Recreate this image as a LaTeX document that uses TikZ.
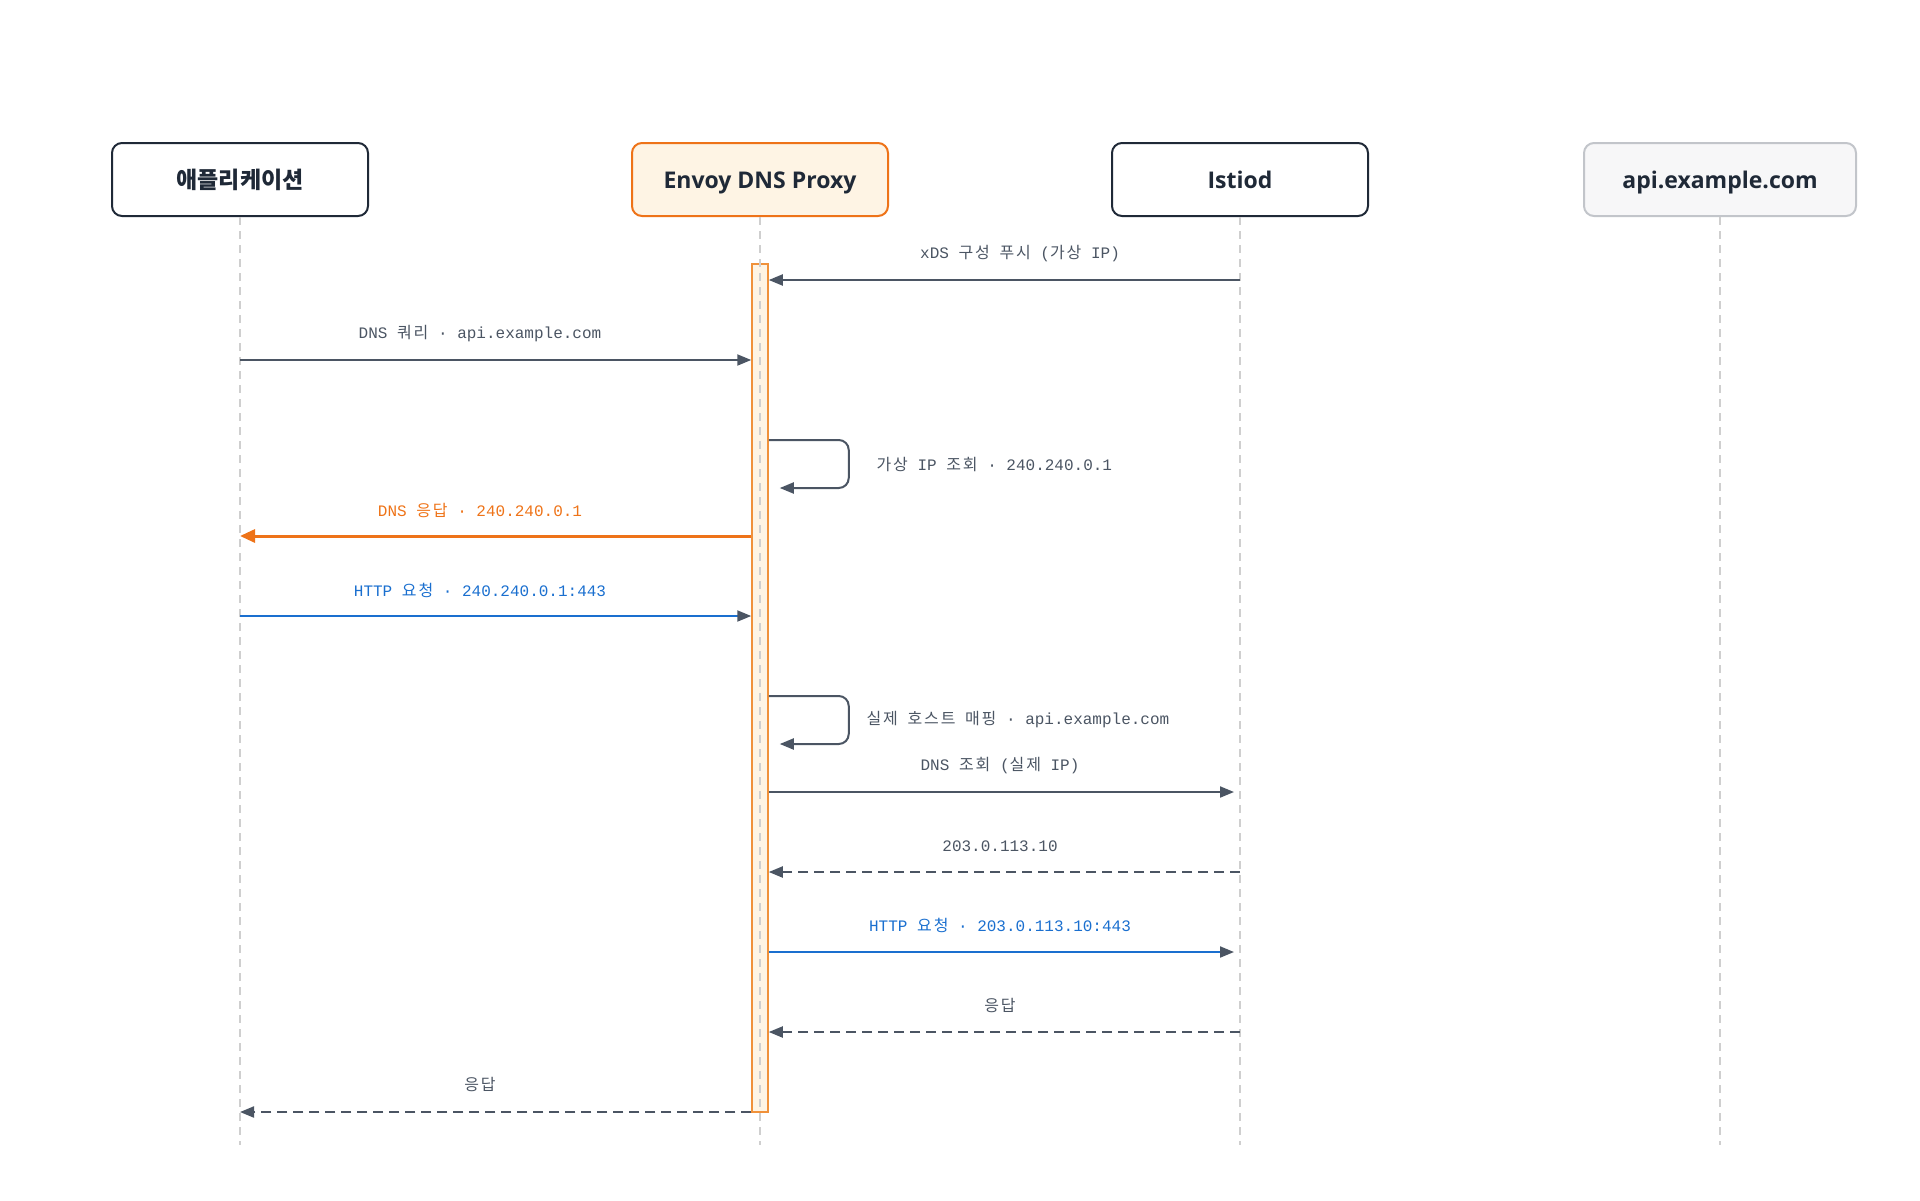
\documentclass[tikz,border=0pt]{standalone}
\usepackage{fontspec}
\usepackage{tikz}
\usetikzlibrary{arrows.meta}
\setmainfont{Open Sans}
\setmonofont{Liberation Mono}
\newfontfamily\kofont{Noto Sans CJK KR}
\newfontfamily\komono{Noto Sans CJK KR}[LetterSpace=12]
\newcommand{\ko}[1]{{\komono #1}}
\newcommand{\headFont}[0]{\fontsize{23}{28}\selectfont\bfseries}
\newcommand{\msgFont}[0]{\fontsize{16}{20}\selectfont\ttfamily}
\definecolor{inkDark}{HTML}{1F2937}
\definecolor{msgGray}{HTML}{4B5563}
\definecolor{envoyOrange}{HTML}{EE7318}
\definecolor{barOrange}{HTML}{F0913A}
\definecolor{envoyFill}{HTML}{FEF4E4}
\definecolor{httpBlue}{HTML}{1A6FCF}
\definecolor{extBorder}{HTML}{C2C5CA}
\definecolor{extFill}{HTML}{F7F7F8}
\definecolor{lifeGray}{HTML}{CFCFCF}

\begin{document}
\begin{tikzpicture}[x=1pt, y=-1pt]
  \tikzset{
    actor/.style={draw=inkDark, line width=2pt, rounded corners=10pt, minimum width=256pt,
      minimum height=73pt, text height=17pt, text depth=0pt, font=\headFont, text=inkDark},
    lifeline/.style={draw=lifeGray, line width=1.5pt, dash pattern=on 8pt off 6pt},
    msg/.style={draw=msgGray, line width=2pt, -{Triangle[length=14pt, width=11pt, color=msgGray]}},
    reply/.style={msg, dash pattern=on 10pt off 6pt},
    msglabel/.style={font=\msgFont, text=msgGray},
  }
  \useasboundingbox (0,0) rectangle (1920,1200);
  \node[actor] (app) at (240,179.5) {{\kofont 애플리케이션}};
  \node[actor, draw=envoyOrange, fill=envoyFill] (envoy) at (760,179.5) {Envoy DNS Proxy};
  \node[actor] (istiod) at (1240,179.5) {Istiod};
  \node[actor, draw=extBorder, fill=extFill, minimum width=272pt] (api) at (1720,179.5) {api.example.com};
  \coordinate (end) at (0,1145);
  \foreach \n/\y in {1/280,2/360,3/440,4/536,5/616,6/696,7/792,8/872,9/952,10/1032,11/1112}
    \coordinate (t\n) at (0,\y);
  % activation of the proxy
  \node[draw=barOrange, fill=envoyFill, line width=1.5pt, minimum width=16pt,
    minimum height=848pt, inner sep=0pt] (bar) at (760,688) {};
  \foreach \who in {app,envoy,istiod,api}
    \draw[lifeline] (\who.south) -- (\who |- end);
  % messages
  \draw[msg] (istiod |- t1) -- (bar.east |- t1);
  \node[msglabel] (l1) at (1020,254) {xDS \ko{구성} \ko{푸시} (\ko{가상} IP)};
  \draw[msg] (app |- t2) -- (bar.west |- t2);
  \node[msglabel] (l2) at (480,334) {DNS \ko{쿼리} · api.example.com};
  \draw[msg, rounded corners=10pt] (bar.east |- t3) -- ++(80,0) -- ++(0,48) -- ++(-69,0);
  \node[msglabel, anchor=west] (l3) at (873,464) {\ko{가상} IP \ko{조회} · 240.240.0.1};
  \draw[draw=envoyOrange, line width=3pt, -{Triangle[length=15pt, width=13pt]}] (bar.west |- t4) -- (app |- t4);
  \node[msglabel, text=envoyOrange] (l4) at (480,510) {DNS \ko{응답} · 240.240.0.1};
  \draw[msg, draw=httpBlue] (app |- t5) -- (bar.west |- t5);
  \node[msglabel, text=httpBlue] (l5) at (480,590) {HTTP \ko{요청} · 240.240.0.1:443};
  \draw[msg, rounded corners=10pt] (bar.east |- t6) -- ++(80,0) -- ++(0,48) -- ++(-69,0);
  \node[msglabel, anchor=west] (l6) at (863,720) {\ko{실제} \ko{호스트} \ko{매핑} · api.example.com};
  \draw[msg, shorten >=6pt] (bar.east |- t7) -- (istiod |- t7);
  \node[msglabel] (l7) at (1000,766) {DNS \ko{조회} (\ko{실제} IP)};
  \draw[reply] (istiod |- t8) -- (bar.east |- t8);
  \node[msglabel] (l8) at (1000,846) {203.0.113.10};
  \draw[msg, draw=httpBlue, shorten >=6pt] (bar.east |- t9) -- (istiod |- t9);
  \node[msglabel, text=httpBlue] (l9) at (1000,925) {HTTP \ko{요청} · 203.0.113.10:443};
  \draw[reply] (istiod |- t10) -- (bar.east |- t10);
  \node[msglabel] (l10) at (1000,1005) {\ko{응답}};
  \draw[reply] (bar.west |- t11) -- (app |- t11);
  \node[msglabel] (l11) at (480,1084) {\ko{응답}};
\end{tikzpicture}
\end{document}
